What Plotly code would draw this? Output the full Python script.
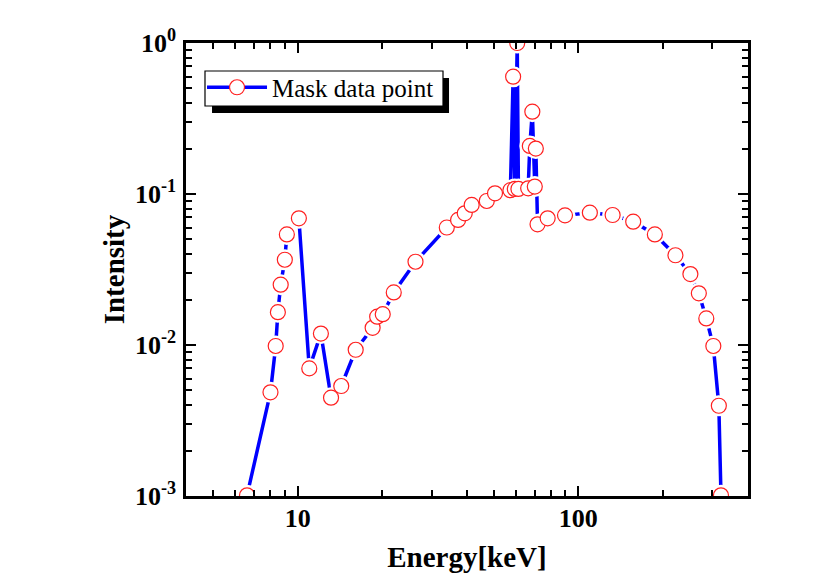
import plotly.graph_objects as go

# ---- data ----
energy = [6.6, 8.0, 8.35, 8.5, 8.7, 9.0, 9.15, 10.1, 11.0, 12.1, 13.15, 14.3,
          16.1, 18.5, 19.2, 20.1, 22.0, 26.3, 34.0, 37.3, 39.4, 41.7, 47.2, 50.5,
          57.3, 58.6, 59.4, 60.6, 61.2, 66.3, 67.2, 68.6, 70.0, 70.6, 71.6, 77.8,
          89.7, 110.0, 132.6, 157.0, 187.5, 222.0, 251.0, 269.0, 286.0, 303.0,
          317.0, 322.6]
intensity = [0.00101, 0.00486, 0.00985, 0.0165, 0.0251, 0.0367, 0.054, 0.069,
             0.0070, 0.0119, 0.00448, 0.00535, 0.0093, 0.0130, 0.0154, 0.0160,
             0.0223, 0.0356, 0.060, 0.0673, 0.0745, 0.0846, 0.0899, 0.101,
             0.106, 0.598, 0.108, 1.0, 0.108, 0.109, 0.208, 0.351, 0.112, 0.200,
             0.063, 0.069, 0.0722, 0.0752, 0.0726, 0.0656, 0.054, 0.0393,
             0.0295, 0.022, 0.0150, 0.00985, 0.00396, 0.00101]

series_name = "Mask data point"
x_title = "Energy[keV]"
y_title = "Intensity"
x_tickvals = [10, 100]
x_ticktext = ["10", "100"]
y_tickvals = [1e-3, 1e-2, 1e-1, 1e0]
y_ticktext = ["10<sup>-3</sup>", "10<sup>-2</sup>", "10<sup>-1</sup>", "10<sup>0</sup>"]
x_minor = [m * 10 ** e for e in (0, 1, 2) for m in range(2, 10)
           if 4.1 < m * 10 ** e < 395]
y_minor = [m * 10.0 ** e for e in (-3, -2, -1) for m in range(2, 10)]

FONT = "Liberation Serif, serif"
BLUE = "#0000FF"
RED = "#FF2020"

fig = go.Figure()
# line + marker (legend entry)
fig.add_trace(go.Scatter(
    x=energy, y=intensity, mode="lines+markers", name=series_name,
    line=dict(color=BLUE, width=3.5),
    marker=dict(symbol="circle", size=15, color="white",
                line=dict(color=RED, width=1.2)),
    showlegend=True))
# white halo to create gaps in the line around each marker
fig.add_trace(go.Scatter(
    x=energy, y=intensity, mode="markers", showlegend=False, hoverinfo="skip",
    marker=dict(symbol="circle", size=21, color="white", line=dict(width=0))))
# open circle markers on top
fig.add_trace(go.Scatter(
    x=energy, y=intensity, mode="markers", showlegend=False,
    marker=dict(symbol="circle", size=15, color="white",
                line=dict(color=RED, width=1.2))))

axis_common = dict(
    showline=True, linecolor="black", linewidth=2.5, mirror="allticks",
    ticks="inside", ticklen=10, tickwidth=2, tickcolor="black",
    showgrid=False, zeroline=False, automargin=False,
    tickfont=dict(family=FONT, size=26, color="black", weight="bold"),
)

fig.update_xaxes(
    type="log", range=[0.602, 2.605],
    tickmode="array", tickvals=x_tickvals, ticktext=x_ticktext,
    ticklabelstandoff=-3,
    minor=dict(tickmode="array", tickvals=x_minor, ticks="inside", ticklen=6,
               tickwidth=2, tickcolor="black", showgrid=False),
    title=dict(text=x_title, font=dict(family=FONT, size=29, color="black",
                                       weight="bold"), standoff=15),
    **axis_common)
fig.update_yaxes(
    type="log", range=[-3, 0],
    tickmode="array", tickvals=y_tickvals, ticktext=y_ticktext,
    ticklabelstandoff=2,
    minor=dict(tickmode="array", tickvals=y_minor, ticks="inside", ticklen=6,
               tickwidth=2, tickcolor="black", showgrid=False),
    title=dict(text=y_title, font=dict(family=FONT, size=29, color="black",
                                       weight="bold"), standoff=2),
    **axis_common)

fig.update_layout(
    width=810, height=577,
    margin=dict(l=178, r=70, t=35, b=89, autoexpand=False),
    paper_bgcolor="white", plot_bgcolor="white",
    font=dict(family=FONT, color="black"),
    showlegend=True,
    legend=dict(x=0.0285, y=0.9525, xanchor="left", yanchor="top",
                bgcolor="rgba(0,0,0,0)", borderwidth=0,
                font=dict(family=FONT, size=25, color="black", weight="normal"),
                itemwidth=60, tracegroupgap=0),
)

# legend drop shadow and frame
fig.add_shape(type="rect", xref="paper", yref="paper",
              x0=0.0463, x1=0.4680, y0=0.8455, y1=0.9227,
              fillcolor="black", line=dict(width=0), layer="above")
fig.add_shape(type="rect", xref="paper", yref="paper",
              x0=0.0338, x1=0.4573, y0=0.8609, y1=0.9382,
              fillcolor="white", line=dict(color="black", width=1.2),
              layer="above")

fig.write_html("out.html")
